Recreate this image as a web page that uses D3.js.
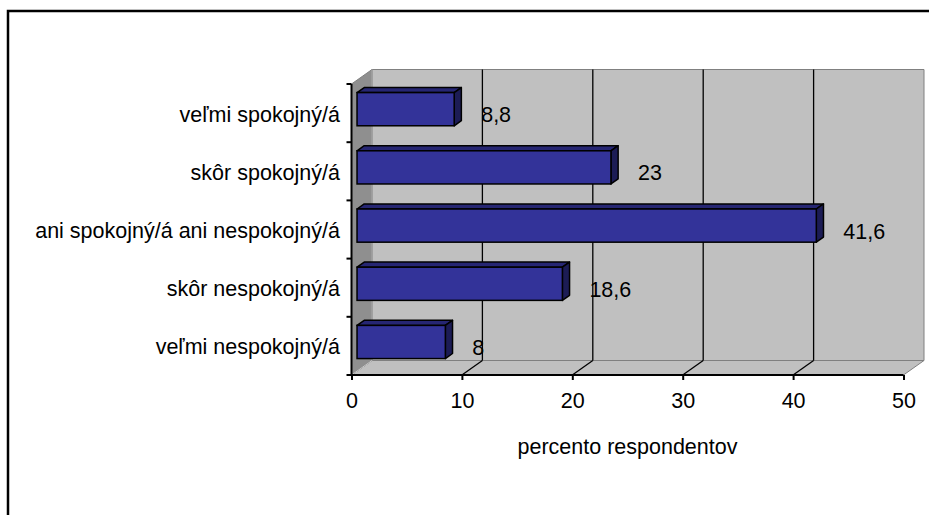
<!DOCTYPE html>
<html><head><meta charset="utf-8">
<script src="https://cdn.jsdelivr.net/npm/d3@7"></script>
<style>body{margin:0;background:#fff}svg{display:block}text{font-family:Arial,"Liberation Sans",sans-serif;fill:#000}</style>
</head><body>
<svg id="c" width="929" height="515"></svg>
<script>
const categories = ["veľmi spokojný/á","skôr spokojný/á","ani spokojný/á ani nespokojný/á","skôr nespokojný/á","veľmi nespokojný/á"];
const values = [8.8, 23, 41.6, 18.6, 8];
const valueLabels = ["8,8","23","41,6","18,6","8"];
const xTicks = [0,10,20,30,40,50];
const xTickLabels = ["0","10","20","30","40","50"];
const axisTitle = "percento respondentov";

const svg = d3.select("#c");
const FS = 21.5;
const D = [20.5, -14.5];           // depth vector
const t0 = 0.27, t1 = 0.62;        // bar depth range

const x = d3.scaleLinear().domain([0,50]).range([351.5,903.5]);
const y = d3.scaleBand().domain(categories).range([84,375]).paddingInner(0.43).paddingOuter(0.215);
const yTop = 84, yBot = 375;
const xL = x(0), xR = x(50);

// outer border
svg.append("rect").attr("x",8).attr("y",11).attr("width",1000).attr("height",600)
  .attr("fill","#fff").attr("stroke","#000").attr("stroke-width",2.5);

const poly = pts => pts.map(p=>p.join(",")).join(" ");

// back wall
svg.append("polygon").attr("points",poly([[xL+D[0],yTop+D[1]],[xR+D[0],yTop+D[1]],[xR+D[0],yBot+D[1]],[xL+D[0],yBot+D[1]]]))
  .attr("fill","#c0c0c0").attr("stroke","#808080").attr("stroke-width",1);
// floor
svg.append("polygon").attr("points",poly([[xL,yBot],[xL+D[0],yBot+D[1]],[xR+D[0],yBot+D[1]],[xR,yBot]]))
  .attr("fill","#c0c0c0").attr("stroke","#808080").attr("stroke-width",1);
// left wall
svg.append("polygon").attr("points",poly([[xL,yTop],[xL+D[0],yTop+D[1]],[xL+D[0],yBot+D[1]],[xL,yBot]]))
  .attr("fill","#8f8f8f").attr("stroke","#808080").attr("stroke-width",1);
// wall/floor junction highlight
svg.append("line").attr("x1",xL).attr("y1",yBot).attr("x2",xL+D[0]).attr("y2",yBot+D[1])
  .attr("stroke","#c8c8c8").attr("stroke-width",1);
svg.append("line").attr("x1",xL+D[0]).attr("y1",yTop+D[1]).attr("x2",xL+D[0]).attr("y2",yBot+D[1])
  .attr("stroke","#b0b0b0").attr("stroke-width",1);

// gridlines on back wall + floor
const grid = xTicks.filter(v=>v>0 && v<50);
svg.selectAll(".gv").data(grid).join("line")
  .attr("x1",d=>x(d)+D[0]).attr("x2",d=>x(d)+D[0]).attr("y1",yTop+D[1]).attr("y2",yBot+D[1])
  .attr("stroke","#000").attr("stroke-width",1.3);
svg.selectAll(".gf").data(grid).join("line")
  .attr("x1",d=>x(d)).attr("y1",yBot).attr("x2",d=>x(d)+D[0]).attr("y2",yBot+D[1])
  .attr("stroke","#000").attr("stroke-width",1.3);

// bars
const bw = y.bandwidth();
const g = svg.append("g");
categories.forEach((c,i)=>{
  const v = values[i];
  const fx0 = xL + D[0]*t0, fx1 = x(v) + D[0]*t0;
  const fy0 = y(c) + D[1]*t0, fy1 = fy0 + bw;
  const bdx = D[0]*(t1-t0), bdy = D[1]*(t1-t0);
  // top
  g.append("polygon").attr("points",poly([[fx0,fy0],[fx0+bdx,fy0+bdy],[fx1+bdx,fy0+bdy],[fx1,fy0]]))
    .attr("fill","#262673").attr("stroke","#000").attr("stroke-width",1.5).attr("stroke-linejoin","round");
  // side
  g.append("polygon").attr("points",poly([[fx1,fy0],[fx1+bdx,fy0+bdy],[fx1+bdx,fy1+bdy],[fx1,fy1]]))
    .attr("fill","#1c1c55").attr("stroke","#000").attr("stroke-width",1.5).attr("stroke-linejoin","round");
  // front
  g.append("rect").attr("x",fx0).attr("y",fy0).attr("width",fx1-fx0).attr("height",bw)
    .attr("fill","#333399").attr("stroke","#000").attr("stroke-width",1.5);
  // value label
  svg.append("text").attr("x",fx1+27).attr("y",y(c)+bw/2+9)
    .attr("font-size",FS).text(valueLabels[i]);
});

// axes lines
svg.append("line").attr("x1",xL).attr("x2",xL).attr("y1",yTop).attr("y2",yBot).attr("stroke","#000").attr("stroke-width",2);
svg.append("line").attr("x1",xL).attr("x2",xR).attr("y1",yBot).attr("y2",yBot).attr("stroke","#000").attr("stroke-width",2);

// left ticks at band boundaries
const gap = (y.step()-bw)/2;
const bounds = categories.map(c=>y(c)-gap).concat([y(categories[categories.length-1])+bw+gap]);
svg.selectAll(".lt").data(bounds).join("line")
  .attr("x1",xL-5).attr("x2",xL).attr("y1",d=>d).attr("y2",d=>d).attr("stroke","#000").attr("stroke-width",2);

// category labels
svg.selectAll(".cl").data(categories).join("text")
  .attr("x",340).attr("y",d=>y(d)+bw/2+8.5).attr("text-anchor","end").attr("font-size",FS).text(d=>d);

// bottom axis
const ax = svg.append("g").attr("transform",`translate(0,${yBot})`)
  .call(d3.axisBottom(x).tickValues(xTicks).tickSize(5).tickFormat((d,i)=>xTickLabels[i]));
ax.select(".domain").remove();
ax.selectAll(".tick line").attr("stroke","#000").attr("stroke-width",2);
ax.selectAll(".tick text").attr("font-size",FS).attr("font-family","Arial, 'Liberation Sans', sans-serif")
  .attr("fill","#000").attr("dy",null).attr("y",33);

// axis title
svg.append("text").attr("x",(xL+xR)/2).attr("y",454).attr("text-anchor","middle").attr("font-size",FS).text(axisTitle);
</script>
</body></html>
